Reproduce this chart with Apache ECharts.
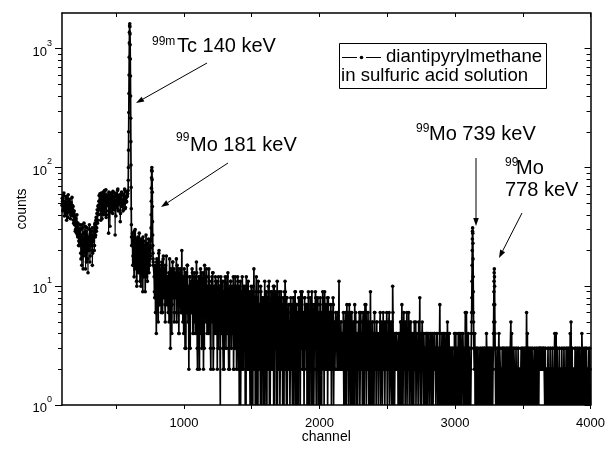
<!DOCTYPE html>
<html><head><meta charset="utf-8">
<script src="https://cdn.jsdelivr.net/npm/echarts@6/dist/echarts.min.js"></script>
<style>html,body{margin:0;padding:0;background:#fff}#c{width:608px;height:450px}</style>
</head><body><div id="c"></div>
<script>
// ---- data (counts per channel) ----
// low-energy continuum, channels 100.. (step 4) and 102.. (step 4)
const lowStart = 100, lowStartB = 102, lowStep = 4;
const lowCounts = [48, 52, 44, 58, 46, 50, 41, 47, 55, 45, 49, 38, 53, 46, 43, 50, 40, 47, 42, 48,
  44, 36, 41, 33, 38, 30, 35, 28, 33, 26, 31, 24, 29,
  22, 30, 17, 26, 33, 21, 14, 28, 19, 25, 32, 20, 16, 27, 23, 13, 26, 21, 30, 18, 24, 29, 20, 15, 27,
  24, 31, 22, 34, 27, 38, 31, 44, 36, 48,
  52, 44, 60, 49, 41, 57, 37, 53, 62, 46, 55, 42, 50, 65, 40, 56, 48, 54, 28, 59, 45, 51, 61, 42, 55, 47,
  63, 50, 44, 57, 27, 53, 60, 46, 51, 66, 43, 56, 49, 58, 41, 54, 62, 47, 52, 44, 59, 50, 64, 46, 55, 52, 58, 60];
const lowCountsB = [55, 43, 50, 61, 39, 52, 47, 57, 36, 51, 44, 59, 42, 49, 54, 37, 51, 45, 56, 39,
  47, 34, 43, 39, 29, 37, 32, 40, 27, 34, 22, 30, 26,
  33, 19, 27, 15, 31, 24, 18, 34, 22, 26, 14, 29, 23, 31, 17, 25, 20, 33, 16, 28, 22, 26, 31, 19, 24,
  29, 20, 33, 26, 36, 29, 41, 34, 47, 40,
  58, 47, 53, 36, 61, 50, 44, 58, 40, 56, 64, 45, 52, 38, 59, 48, 55, 43, 62, 51, 32, 57, 46, 53, 60, 41,
  56, 49, 45, 61, 52, 39, 57, 48, 64, 44, 54, 50, 59, 35, 56, 47, 61, 53, 43, 58, 49, 66, 45, 56, 51, 62, 57];
const tcStart = 588;   // 99mTc 140 keV, one value per channel
const tcPeak = [64, 78, 100, 140, 200, 290, 420, 600, 850, 1120, 1380, 1560, 1620, 1530, 1330, 1080, 820, 590, 400, 260, 165, 105, 68, 45, 33, 26, 22];
const postTcStart = 620, postTcStartB = 622, postTcStep = 4;
const postTcCounts = [28, 18, 24, 12, 21, 30, 16, 22, 10, 19, 26, 14, 20, 23, 11, 17, 25, 15, 21, 9, 18, 24, 13, 20, 16, 27, 12, 19, 22, 14, 18, 21, 15, 24];
const postTcCountsB = [15, 26, 19, 29, 14, 23, 18, 11, 25, 16, 21, 13, 28, 17, 20, 10, 24, 14, 19, 26, 12, 22, 17, 9, 20, 15, 23, 11, 18, 25, 13, 20, 17];
const mo181Start = 754; // 99Mo 181 keV
const mo181Peak = [18, 21, 25, 31, 40, 52, 67, 82, 95, 100, 93, 79, 62, 47, 35, 27, 22, 19, 17, 16, 15];
// tail: base-36 digits, one per 4 channels, 25 per 100 channels; set A from channel 780, set B from 782
const tailStart = 780, tailStartB = 782, tailStep = 4;
const tailBlocks = [
  "c8fa4hb9dk7ec6gbai9d7fc8b", "a6d9c3eb7g8a5dc9h6b8e4ac7", "9kb5c8a3db6f7925c9a6e8b4d", "7a4g82b9c5a6d38b27f9a5c69",
  "8e5a39b6d27a4c8b5937a61c4", "6b3927c5a48d3726b94a5c283", "7a28c4916b37295a4817c3962", "5917a2816e3729184b6271935",
  "4812b6391728b4163927a5183", "71b3826149271835296184273", "5282716382914736152817393", "2618374152816372914627381",
  "6283517261493816273518264", "3716281452643524b34253426", "1526314251731624153172514", "3152416231514273615241329",
  "1425131624152314261531425", "315261425134215a314232432", "1413251731425142613241531", "2413152413231528141324132",
  "3142413214231421342312413", "2171324132142123513412312", "1312413213142312413231216", "2613121321423121312313212",
  "1321213231321412313213212", "2132312132141321231321312", "1231321352131231213212312", "2131231213216213123121321",
  "1312131213232322232321312", "2131213121312143121312131", "1231213121321312312513121", "2131231213121241321312131",
  "213121"];
const tailBlocksB = [
  "9e6bg8c5ja7d9fb6h8ce5ai7c", "7c5ha6d4bg9e6a8c5f7d4b9e6", "6c8a4e7b3d9f5a8c36b9d4a7c", "5b8d3a6c29e47b5da38c6e4a7",
  "4b7a29c5d38a6b4927c5a38b6", "9428b5a36c4928a5b37492a6c", "3948b25a7193c6284a51972b4", "8264193a27518c3619247a518",
  "2736195284a6173952841a639", "3617295148362719b42813625", "1736248163927152846193725", "5183627419263815274163928",
  "3716248153627194352817362", "2516371425342635243524342", "4153172614253162415326142", "1426135241631527142635142",
  "3152416231524132514231624", "1423514261352416231243423", "3241524131624153142613251", "1324132514231432413521431",
  "2413142312413213423142312", "1423121341231241321423131", "3121324131231421312412313", "1312413121321312413212312",
  "2131231213212313121321321", "1213121312313212131231213", "3121231314121321231213121", "1213121321312413121312312",
  "2131213121323223232213121", "1312131213121312413121312", "2131213121312131241213121", "1321213121312131212131312",
  "12131"];
const mo739Start = 3120; // 99Mo 739 keV
const mo739Peak = [3, 4, 5, 6, 8, 11, 15, 20, 25, 29, 31, 28, 23, 17, 12, 9, 6, 5, 4, 3];
const mo778Start = 3283; // 99Mo 778 keV
const mo778Peak = [3, 4, 5, 7, 9, 11, 13, 14, 12, 10, 7, 5, 4, 3, 3];
const xLabelValues = [1000, 2000, 3000, 4000];
const xTickValues = [500, 1000, 1500, 2000, 2500, 3000, 3500, 4000];
const yMajorValues = [1, 10, 100, 1000];
const yMinorValues = [2, 3, 4, 5, 6, 7, 8, 9, 20, 30, 40, 50, 60, 70, 80, 90, 200, 300, 400, 500, 600, 700, 800, 900];

// ---- build series ----
function seg(start, step, arr) { return arr.map((v, i) => [start + i * step, v]); }
function decode(blocks) { return blocks.join('').split('').map(c => parseInt(c, 36)); }
const mo739End = mo739Start + mo739Peak.length - 1, mo778End = mo778Start + mo778Peak.length - 1;
const tailPts = seg(tailStart, tailStep, decode(tailBlocks)).concat(seg(tailStartB, tailStep, decode(tailBlocksB)))
  .filter(p => p[0] <= 4000 &&
    !(p[0] >= mo739Start - 2 && p[0] <= mo739End + 2) && !(p[0] >= mo778Start - 2 && p[0] <= mo778End + 2));
const lowPts = [].concat(seg(lowStart, lowStep, lowCounts), seg(lowStartB, lowStep, lowCountsB));
lowPts.sort((a, b) => a[0] - b[0]);
const highPts = [].concat(
  [lowPts[lowPts.length - 1]],
  seg(tcStart, 1, tcPeak),
  seg(postTcStart, postTcStep, postTcCounts), seg(postTcStartB, postTcStep, postTcCountsB),
  seg(mo181Start, 1, mo181Peak), tailPts, seg(mo739Start, 1, mo739Peak), seg(mo778Start, 1, mo778Peak));
highPts.sort((a, b) => a[0] - b[0]);

const FF = '"Liberation Sans", Arial, sans-serif';
const chart = echarts.init(document.getElementById('c'), null, { renderer: 'canvas' });

function txt(x, y, t, size, align) {
  return { type: 'text', x: x, y: y, z: 100, style: { text: t, font: size + 'px ' + FF, fill: '#000', align: align || 'left', verticalAlign: 'middle' } };
}
function arrow(x1, y1, x2, y2) {
  const dx = x2 - x1, dy = y2 - y1, L = Math.hypot(dx, dy), ux = dx / L, uy = dy / L;
  const hl = 8, hw = 2.8, bx = x2 - ux * hl, by = y2 - uy * hl;
  return [
    { type: 'line', z: 100, shape: { x1: x1, y1: y1, x2: bx, y2: by }, style: { stroke: '#000', lineWidth: 1 } },
    { type: 'polygon', z: 100, shape: { points: [[x2, y2], [bx - uy * hw, by + ux * hw], [bx + uy * hw, by - ux * hw]] }, style: { fill: '#000' } }
  ];
}

const axisLine = { show: true, lineStyle: { color: '#000', width: 1.5 } };
const yLog = { type: 'log', logBase: 10, min: 1, max: 2000, splitLine: { show: false } };
const seriesBase = {
  type: 'line', xAxisIndex: 0, yAxisIndex: 0, symbol: 'circle',
  symbolSize: v => (v[1] <= 1 ? 0 : 3.6), showSymbol: true, silent: true, clip: true, itemStyle: { color: '#000' }
};

const option = {
  animation: false,
  backgroundColor: '#fff',
  grid: { left: 62, right: 13, top: 13, bottom: 45, containLabel: false },
  xAxis: [
    { type: 'value', min: 100, max: 4000, position: 'bottom', axisLine: axisLine, splitLine: { show: false },
      axisTick: { show: true, inside: false, length: 4, customValues: xTickValues, lineStyle: { color: '#000' } },
      axisLabel: { customValues: xLabelValues, formatter: v => String(v), color: '#000', fontSize: 13, fontFamily: FF, margin: 12 },
      name: 'channel', nameLocation: 'middle', nameGap: 25, nameMoveOverlap: false,
      nameTextStyle: { color: '#000', fontSize: 14, fontFamily: FF } },
    { type: 'value', min: 100, max: 4000, position: 'top', axisLine: axisLine, splitLine: { show: false },
      axisTick: { show: true, inside: true, length: 4, customValues: xTickValues, lineStyle: { color: '#000' } },
      axisLabel: { show: false } }
  ],
  yAxis: [
    Object.assign({}, yLog, { position: 'left', axisLine: axisLine,
      axisTick: { show: true, inside: false, length: 7, customValues: yMajorValues, lineStyle: { color: '#000' } },
      axisLabel: { customValues: yMajorValues, margin: 10, color: '#000',
        formatter: v => '{b|10}{s|' + Math.round(Math.log10(v)) + '}',
        rich: { b: { fontSize: 13, fontFamily: FF, color: '#000', lineHeight: 20, verticalAlign: 'bottom' },
                s: { fontSize: 9, fontFamily: FF, color: '#000', lineHeight: 10, verticalAlign: 'top' } } },
      name: 'counts', nameLocation: 'middle', nameGap: 33, nameMoveOverlap: false,
      nameTextStyle: { color: '#000', fontSize: 14, fontFamily: FF } }),
    Object.assign({}, yLog, { position: 'left', axisLine: { show: false },
      axisTick: { show: true, inside: false, length: 4, customValues: yMinorValues, lineStyle: { color: '#000' } },
      axisLabel: { show: false } }),
    Object.assign({}, yLog, { position: 'right', axisLine: axisLine,
      axisTick: { show: true, inside: true, length: 6, customValues: yMajorValues, lineStyle: { color: '#000' } },
      axisLabel: { show: false } }),
    Object.assign({}, yLog, { position: 'right', axisLine: { show: false },
      axisTick: { show: true, inside: true, length: 4, customValues: yMinorValues, lineStyle: { color: '#000' } },
      axisLabel: { show: false } })
  ],
  series: [
    Object.assign({}, seriesBase, { name: 'diantipyrylmethane in sulfuric acid solution', data: lowPts, lineStyle: { color: '#000', width: 1.1 } }),
    Object.assign({}, seriesBase, { name: 'diantipyrylmethane in sulfuric acid solution', data: highPts, lineStyle: { color: '#000', width: 1.7 } })
  ],
  graphic: [].concat(
    [
      { type: 'rect', z: 100, shape: { x: 339.5, y: 43.5, width: 207, height: 45 }, style: { fill: '#fff', stroke: '#000', lineWidth: 1 } },
      { type: 'line', z: 101, shape: { x1: 342, y1: 57.5, x2: 357, y2: 57.5 }, style: { stroke: '#000', lineWidth: 1 } },
      { type: 'circle', z: 101, shape: { cx: 361.5, cy: 57.5, r: 1.8 }, style: { fill: '#000' } },
      { type: 'line', z: 101, shape: { x1: 366, y1: 57.5, x2: 381, y2: 57.5 }, style: { stroke: '#000', lineWidth: 1 } },
      txt(386, 57, 'diantipyrylmethane', 18.6),
      txt(341, 76, 'in sulfuric acid solution', 18.6),
      txt(152, 42, '99m', 12), txt(177, 46, 'Tc 140 keV', 20),
      txt(176, 138, '99', 12), txt(190, 145, 'Mo 181 keV', 20),
      txt(416, 129, '99', 12), txt(429, 134, 'Mo 739 keV', 20),
      txt(505, 163, '99', 12), txt(516, 168, 'Mo', 20), txt(505, 190, '778 keV', 20)
    ],
    arrow(207, 63, 136, 103),
    arrow(228, 163, 161, 207),
    arrow(476, 158, 476, 226),
    arrow(522, 213, 499, 258)
  )
};
chart.setOption(option);
</script></body></html>
